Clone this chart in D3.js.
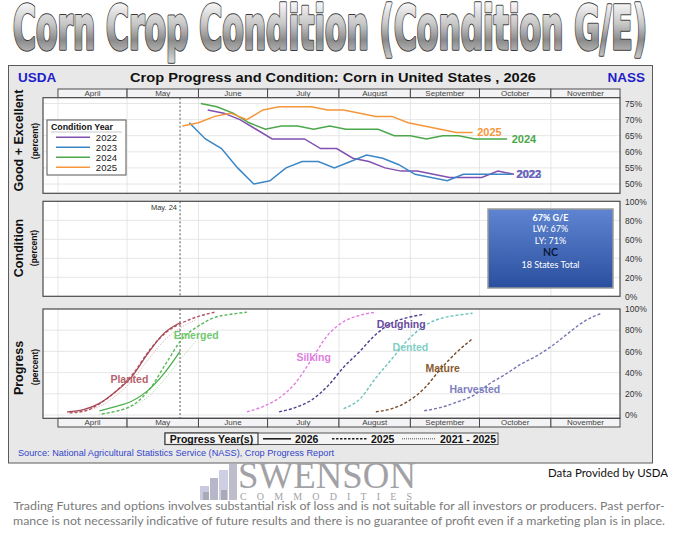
<!DOCTYPE html>
<html>
<head>
<meta charset="utf-8">
<script src="https://cdn.jsdelivr.net/npm/d3@7"></script>
<style>
  body { margin: 0; background: #fff; }
  svg { display: block; }
</style>
</head>
<body>
<svg id="chart" width="680" height="542"></svg>
<script>
//
// data
//

var monthNames = ["April", "May", "June", "July", "August", "September", "October", "November"];
var monthStarts = ["04-01", "05-01", "06-01", "07-01", "08-01", "09-01", "10-01", "11-01", "12-01"];

// condition: good + excellent, percent
var ge2022Dates = ["06-05","06-12","06-19","06-26","07-03","07-10","07-17","07-24","07-31","08-07","08-14","08-21","08-28","09-04","09-11","09-18","09-25","10-02","10-09","10-16"];
var ge2022 = [73,72,70,67,64,64,64,61,61,58,57,55,54,54,53,52,52,52,54,53];
var ge2023Dates = ["05-28","06-04","06-11","06-18","06-25","07-02","07-09","07-16","07-23","07-30","08-06","08-13","08-20","08-27","09-03","09-10","09-17","09-24","10-01","10-08","10-15"];
var ge2023 = [69,64,61,55,50,51,55,57,57,55,57,59,58,56,53,52,51,53,53,53,53];
var ge2024Dates = ["06-02","06-09","06-16","06-23","06-30","07-07","07-14","07-21","07-28","08-04","08-11","08-18","08-25","09-01","09-08","09-15","09-22","09-29","10-06","10-13"];
var ge2024 = [75,74,72,69,67,68,68,67,68,67,67,67,65,65,64,65,65,64,64,64];
var ge2025Dates = ["05-25","06-01","06-08","06-15","06-22","06-29","07-06","07-13","07-20","07-27","08-03","08-10","08-17","08-24","08-31","09-07","09-14","09-21","09-28"];
var ge2025 = [68,69,71,72,70,73,74,74,74,73,73,72,71,71,69,68,67,66,66];
var conditionYears = ["2022", "2023", "2024", "2025"];
var geTicks = [50, 55, 60, 65, 70, 75];
var pctTicks = [0, 20, 40, 60, 80, 100];

// progress, percent of crop
var plantedDates2026 = ["04-05","04-12","04-19","04-26","05-03","05-10","05-17","05-24"];
var planted2026 = [3,5,11,22,36,58,77,87];
var plantedDates2025 = ["04-06","04-13","04-20","04-27","05-04","05-11","05-18","05-25","06-01","06-08"];
var planted2025 = [2,4,12,24,40,62,78,87,93,97];
var plantedDatesAvg = ["04-05","04-12","04-19","04-26","05-03","05-10","05-17","05-24","05-31"];
var plantedAvg = [2,4,8,18,32,52,70,82,90];

var emergedDates2026 = ["04-19","04-26","05-03","05-10","05-17","05-24"];
var emerged2026 = [4,8,13,23,39,60];
var emergedDates2025 = ["04-20","04-27","05-04","05-11","05-18","05-25","06-01","06-08","06-15","06-22"];
var emerged2025 = [1,4,10,25,49,72,84,92,95,97];
var emergedDatesAvg = ["04-19","04-26","05-03","05-10","05-17","05-24","05-31"];
var emergedAvg = [1,3,8,17,33,52,70];

var silkingDates2025 = ["06-22","06-29","07-06","07-13","07-20","07-27","08-03","08-10","08-17"];
var silking2025 = [3,8,16,30,52,75,88,94,97];
var doughingDates2025 = ["07-06","07-13","07-20","07-27","08-03","08-10","08-17","08-24","08-31","09-07"];
var doughing2025 = [3,7,14,27,45,60,76,87,92,95];
var dentedDates2025 = ["08-03","08-10","08-17","08-24","08-31","09-07","09-14","09-21","09-28"];
var dented2025 = [6,15,35,53,71,84,91,94,96];
var matureDates2025 = ["08-17","08-24","08-31","09-07","09-14","09-21","09-28"];
var mature2025 = [3,6,13,25,43,59,72];
var harvestedDates2025 = ["09-07","09-14","09-21","09-28","10-05","10-12","10-19","10-26","11-02","11-09","11-16","11-23"];
var harvested2025 = [4,7,12,18,29,38,48,56,66,78,89,96];

var reportDate = "05-24";

//
// helpers
//

var parse = d3.utcParse("%Y-%m-%d");
function day(s) { return parse("2026-" + s); }
function zip(dates, vals) { return dates.map(function(s, i) { return [day(s), vals[i]]; }); }

var FONT = "'Liberation Sans', Arial, sans-serif";
var svg = d3.select("#chart");

var x = d3.scaleUtc()
  .domain([Date.UTC(2026, 2, 25, 12), Date.UTC(2026, 11, 1)])
  .range([43, 620]);

var yGE = d3.scaleLinear().domain([50, 75]).range([184, 103.5]);
var yCond = d3.scaleLinear().domain([0, 100]).range([296.3, 201.3]);
var yProg = d3.scaleLinear().domain([0, 100]).range([415, 309]);

var defs = svg.append("defs");
var tg = defs.append("linearGradient").attr("id", "titleGrad")
  .attr("gradientUnits", "userSpaceOnUse")
  .attr("x1", 0).attr("y1", 4).attr("x2", 0).attr("y2", 62);
tg.append("stop").attr("offset", "0%").attr("stop-color", "#f4f4f4");
tg.append("stop").attr("offset", "35%").attr("stop-color", "#c6c6c6");
tg.append("stop").attr("offset", "62%").attr("stop-color", "#8a8a8a");
tg.append("stop").attr("offset", "100%").attr("stop-color", "#d8d8d8");

var bg = defs.append("linearGradient").attr("id", "boxGrad")
  .attr("x1", 0).attr("y1", 0).attr("x2", 0).attr("y2", 1);
bg.append("stop").attr("offset", "0%").attr("stop-color", "#5f85d2");
bg.append("stop").attr("offset", "100%").attr("stop-color", "#2a4f9e");

//
// big title (drawn twice: dark outline, then the grey fill, to get heavy letters)
//

var titleText = "Corn Crop Condition (Condition G/E)";
[{ stroke: "#3a3a3a", w: 3.4 }, { stroke: "url(#titleGrad)", w: 1.4 }].forEach(function(l) {
  svg.append("text")
    .attr("x", 13).attr("y", 49)
    .attr("textLength", 634).attr("lengthAdjust", "spacingAndGlyphs")
    .style("font-family", "'Liberation Sans Narrow', 'DejaVu Sans Condensed', sans-serif")
    .style("font-weight", "bold").style("font-size", "60px")
    .attr("fill", "url(#titleGrad)").attr("stroke", l.stroke).attr("stroke-width", l.w)
    .attr("stroke-linejoin", "round")
    .text(titleText);
});

//
// chart frame
//

svg.append("rect")
  .attr("x", 8.5).attr("y", 65.5).attr("width", 644).attr("height", 397.5)
  .attr("fill", "#e8e8e8").attr("stroke", "#5a5a5a");

svg.append("text").attr("x", 18).attr("y", 82)
  .style("font", "bold 13.5px " + FONT).attr("fill", "#1f1fc8").text("USDA");
svg.append("text").attr("x", 645).attr("y", 82).attr("text-anchor", "end")
  .style("font", "bold 13.5px " + FONT).attr("fill", "#1f1fc8").text("NASS");
svg.append("text").attr("x", 130).attr("y", 82)
  .attr("textLength", 406).attr("lengthAdjust", "spacingAndGlyphs")
  .style("font", "bold 13px " + FONT).attr("fill", "#111")
  .text("Crop Progress and Condition: Corn in United States , 2026");

function monthHeader(top, h) {
  var g = svg.append("g");
  g.selectAll("rect").data(monthNames).join("rect")
    .attr("x", function(m, i) { return Math.max(x(day(monthStarts[i])), 43); })
    .attr("y", top)
    .attr("width", function(m, i) { return x(day(monthStarts[i + 1])) - Math.max(x(day(monthStarts[i])), 43); })
    .attr("height", h)
    .attr("fill", "#f3f3f5").attr("stroke", "#4a4a4a").attr("stroke-width", 1);
  g.selectAll("text").data(monthNames).join("text")
    .attr("x", function(m, i) {
      return (Math.max(x(day(monthStarts[i])), 43) + x(day(monthStarts[i + 1]))) / 2;
    })
    .attr("y", top + h - 1.8)
    .attr("text-anchor", "middle")
    .style("font", "8px " + FONT).attr("fill", "#444")
    .text(function(m) { return m; });
}

function panel(top, bottom, yScale, gridVals, tickVals) {
  var g = svg.append("g");
  g.append("rect").attr("x", 43).attr("y", top).attr("width", 577).attr("height", bottom - top)
    .attr("fill", "#fff");
  g.selectAll(".vg").data(monthStarts.slice(0, 8)).join("line")
    .attr("x1", function(s) { return x(day(s)); }).attr("x2", function(s) { return x(day(s)); })
    .attr("y1", top).attr("y2", bottom)
    .attr("stroke", "#e0e0e0").attr("stroke-width", 0.8);
  g.selectAll(".hg").data(gridVals).join("line")
    .attr("x1", 43).attr("x2", 620)
    .attr("y1", function(v) { return yScale(v); }).attr("y2", function(v) { return yScale(v); })
    .attr("stroke", "#e0e0e0").attr("stroke-width", 0.8);
  g.append("line")
    .attr("x1", x(day(reportDate))).attr("x2", x(day(reportDate)))
    .attr("y1", top).attr("y2", bottom)
    .attr("stroke", "#555").attr("stroke-width", 1).attr("stroke-dasharray", "2,2");
  var ax = svg.append("g").attr("transform", "translate(621,0)")
    .call(d3.axisRight(yScale).tickValues(tickVals).tickSize(0).tickPadding(4)
      .tickFormat(function(v) { return v + "%"; }));
  ax.select(".domain").remove();
  ax.selectAll("text").style("font", "8.5px " + FONT).attr("fill", "#333");
  return g;
}

function frame(top, bottom) {
  svg.append("rect").attr("x", 43).attr("y", top).attr("width", 577).attr("height", bottom - top)
    .attr("fill", "none").attr("stroke", "#4a4a4a").attr("stroke-width", 1.2);
}

function yTitle(cx, cy, main, size) {
  svg.append("text")
    .attr("transform", "translate(" + cx + "," + cy + ") rotate(-90)")
    .attr("text-anchor", "middle")
    .style("font", "bold " + size + "px " + FONT).attr("fill", "#111")
    .text(main);
}

//
// panel 1: good + excellent
//

monthHeader(89, 8.7);
panel(97.7, 193.3, yGE, geTicks, geTicks);

var geLine = d3.line()
  .x(function(p) { return x(p[0]); })
  .y(function(p) { return yGE(p[1]); });

var geSeries = [
  { year: "2022", pts: zip(ge2022Dates, ge2022), color: "#8150b0" },
  { year: "2023", pts: zip(ge2023Dates, ge2023), color: "#3d86c6" },
  { year: "2024", pts: zip(ge2024Dates, ge2024), color: "#4aa84a" },
  { year: "2025", pts: zip(ge2025Dates, ge2025), color: "#f5963a" }
];

svg.append("g").selectAll("path").data(geSeries).join("path")
  .attr("d", function(s) { return geLine(s.pts); })
  .attr("fill", "none")
  .attr("stroke", function(s) { return s.color; })
  .attr("stroke-width", 1.5);

frame(97.7, 193.3);

// end labels
function endLabel(date, v, txt, color, dx, dy) {
  svg.append("text")
    .attr("x", x(day(date)) + (dx || 0)).attr("y", yGE(v) + 4 + (dy || 0))
    .style("font", "bold 11px " + FONT).attr("fill", color)
    .text(txt);
}
endLabel("09-30", 66.2, "2025", "#f5963a");
endLabel("10-15", 64.1, "2024", "#4aa84a");
endLabel("10-17", 53.1, "2023", "#3d86c6", 0.6, 0.4);
endLabel("10-17", 53.1, "2022", "#7a5bb8");

// condition year legend
var leg = svg.append("g").attr("transform", "translate(47,120)");
leg.append("rect").attr("width", 79).attr("height", 55)
  .attr("fill", "#fff").attr("stroke", "#555").attr("stroke-width", 1);
leg.append("text").attr("x", 4).attr("y", 10)
  .style("font", "bold 8.8px " + FONT).attr("fill", "#111").text("Condition Year");
leg.append("line").attr("x1", 4).attr("x2", 75).attr("y1", 12).attr("y2", 12)
  .attr("stroke", "#bbb").attr("stroke-width", 0.8);
var items = leg.selectAll(".it").data(geSeries).join("g")
  .attr("transform", function(s, i) { return "translate(0," + (17.3 + i * 10) + ")"; });
items.append("line").attr("x1", 9).attr("x2", 43).attr("y1", 0).attr("y2", 0)
  .attr("stroke", function(s) { return s.color; }).attr("stroke-width", 1.5);
items.append("text").attr("x", 70).attr("y", 3.5).attr("text-anchor", "end")
  .style("font", "9.5px " + FONT).attr("fill", "#222")
  .text(function(s) { return s.year; });

yTitle(23, 140.5, "Good + Excellent", 12.5);
yTitle(38, 141, "(percent)", 8.5);

//
// panel 2: condition
//

panel(201.3, 296.3, yCond, [20, 40, 60, 80], pctTicks);
frame(201.3, 296.3);

svg.append("text")
  .attr("x", x(day(reportDate)) - 3).attr("y", 209.5)
  .attr("text-anchor", "end")
  .style("font", "7.5px " + FONT).attr("fill", "#333")
  .text("May. 24");

var box = svg.append("g").attr("transform", "translate(488,209)");
box.append("rect").attr("width", 125).attr("height", 79)
  .attr("fill", "url(#boxGrad)").attr("stroke", "#9a9a9a").attr("stroke-width", 1.5);
var boxLines = [
  { t: "67% G/E", w: "bold", c: "#fff" },
  { t: "LW: 67%", w: "normal", c: "#fff" },
  { t: "LY: 71%", w: "normal", c: "#fff" },
  { t: "NC", w: "bold", c: "#0d1a3a" },
  { t: "18 States Total", w: "normal", c: "#fff" }
];
box.selectAll("text").data(boxLines).join("text")
  .attr("x", 62.5).attr("y", function(l, i) { return 11.5 + i * 11.8; })
  .attr("text-anchor", "middle")
  .style("font-family", "Lato, 'Open Sans', sans-serif")
  .style("font-size", function(l) { return l.t === "NC" ? "10.5px" : "9px"; })
  .style("font-weight", function(l) { return l.w; })
  .attr("fill", function(l) { return l.c; })
  .text(function(l) { return l.t; });

yTitle(23, 248, "Condition", 12.5);
yTitle(37, 248, "(percent)", 8.5);

//
// panel 3: progress
//

panel(309, 418.3, yProg, [0, 20, 40, 60, 80], pctTicks);
monthHeader(418.3, 8.7);

var progLine = d3.line()
  .curve(d3.curveMonotoneX)
  .x(function(p) { return x(p[0]); })
  .y(function(p) { return yProg(p[1]); });

var progSeries = [
  { pts: zip(plantedDatesAvg, plantedAvg), color: "#d9a3ab", dash: "1,1.5", w: 1 },
  { pts: zip(emergedDatesAvg, emergedAvg), color: "#a6d8a0", dash: "1,1.5", w: 1 },
  { pts: zip(plantedDates2025, planted2025), color: "#b35463", dash: "3,2", w: 1.4 },
  { pts: zip(emergedDates2025, emerged2025), color: "#5cb85c", dash: "3,2", w: 1.4 },
  { pts: zip(plantedDates2026, planted2026), color: "#a84a58", dash: null, w: 1.3 },
  { pts: zip(emergedDates2026, emerged2026), color: "#4cb04c", dash: null, w: 1.3 },
  { pts: zip(silkingDates2025, silking2025), color: "#e27fe2", dash: "3,2", w: 1.4 },
  { pts: zip(doughingDates2025, doughing2025), color: "#4b3d8f", dash: "3,2", w: 1.4 },
  { pts: zip(dentedDates2025, dented2025), color: "#6cc5bd", dash: "3,2", w: 1.4 },
  { pts: zip(matureDates2025, mature2025), color: "#7a4a26", dash: "3,2", w: 1.4 },
  { pts: zip(harvestedDates2025, harvested2025), color: "#7474b4", dash: "3,2", w: 1.4 }
];

svg.append("g").selectAll("path").data(progSeries).join("path")
  .attr("d", function(s) { return progLine(s.pts); })
  .attr("fill", "none")
  .attr("stroke", function(s) { return s.color; })
  .attr("stroke-width", function(s) { return s.w; })
  .attr("stroke-dasharray", function(s) { return s.dash; });

var stageLabels = [
  { t: "Planted", d: "05-02", v: 34, c: "#b5636c" },
  { t: "Emerged", d: "05-31", v: 75.5, c: "#72c872" },
  { t: "Silking", d: "07-21", v: 55, c: "#e07fe0" },
  { t: "Doughing", d: "08-28", v: 85.6, c: "#6a4a9e" },
  { t: "Dented", d: "09-01", v: 64.4, c: "#7fcfc6" },
  { t: "Mature", d: "09-15", v: 44.6, c: "#8a5a2e" },
  { t: "Harvested", d: "09-29", v: 24.2, c: "#7e7ec0" }
];
svg.append("g").selectAll("text").data(stageLabels).join("text")
  .attr("x", function(l) { return x(day(l.d)); })
  .attr("y", function(l) { return yProg(l.v) + 3.8; })
  .attr("text-anchor", "middle")
  .style("font", "bold 10.5px " + FONT)
  .attr("fill", function(l) { return l.c; })
  .text(function(l) { return l.t; });

frame(309, 418.3);

yTitle(23, 368, "Progress", 12.5);
yTitle(38, 367, "(percent)", 8.5);

// progress year legend
var pl = svg.append("g").attr("transform", "translate(165,433)");
pl.append("rect").attr("width", 333).attr("height", 11.5)
  .attr("fill", "#f5f5f5").attr("stroke", "#555");
pl.append("rect").attr("width", 93).attr("height", 11.5)
  .attr("fill", "#f5f5f5").attr("stroke", "#444").attr("stroke-width", 1.2);
pl.append("text").attr("x", 46.5).attr("y", 9.5).attr("text-anchor", "middle")
  .style("font", "bold 10.5px " + FONT).attr("fill", "#111").text("Progress Year(s)");
var legItems = [
  { lab: "2026", x0: 98, x1: 126, dash: null, w: 1.6 },
  { lab: "2025", x0: 167, x1: 202, dash: "2.5,1.5", w: 1.6 },
  { lab: "2021 - 2025", x0: 237, x1: 271, dash: "1,1", w: 0.8 }
];
var li = pl.selectAll(".li").data(legItems).join("g");
li.append("line")
  .attr("x1", function(d) { return d.x0; }).attr("x2", function(d) { return d.x1; })
  .attr("y1", 5.8).attr("y2", 5.8)
  .attr("stroke", "#222").attr("stroke-width", function(d) { return d.w; })
  .attr("stroke-dasharray", function(d) { return d.dash; });
li.append("text").attr("x", function(d) { return d.x1 + 4; }).attr("y", 9.5)
  .style("font", "bold 10.5px " + FONT).attr("fill", "#111")
  .text(function(d) { return d.lab; });

svg.append("text").attr("x", 18).attr("y", 456)
  .attr("textLength", 316).attr("lengthAdjust", "spacingAndGlyphs")
  .style("font", "9px " + FONT).attr("fill", "#3344c8")
  .text("Source: National Agricultural Statistics Service (NASS), Crop Progress Report");

//
// footer: logo, credit, disclaimer
//

var logo = svg.append("g").attr("transform", "translate(200,464)");
[[0, 22, 9, 14, "#c9c9df"], [10, 14, 8, 22, "#b7b7c9"], [19, 6, 9, 30, "#cfcfe3"], [29, 0, 8, 36, "#bdbdcc"],
 [3, 28, 6, 8, "#a9a9b8"], [21, 26, 6, 10, "#a9a9b8"]].forEach(function(r) {
  logo.append("rect").attr("x", r[0]).attr("y", r[1]).attr("width", r[2]).attr("height", r[3]).attr("fill", r[4]);
});
// serif word mark, scaled so its box stays below the chart frame
svg.append("text")
  .attr("transform", "translate(238,488) scale(1,1.3)")
  .attr("textLength", 178).attr("lengthAdjust", "spacingAndGlyphs")
  .style("font-family", "'Liberation Serif', 'DejaVu Serif', serif").style("font-size", "29px")
  .attr("fill", "#a2a2a6").text("SWENSON");
svg.append("text").attr("x", 240).attr("y", 500)
  .attr("textLength", 172).attr("lengthAdjust", "spacing")
  .style("font-family", "'Liberation Serif', 'DejaVu Serif', serif").style("font-size", "10px")
  .attr("fill", "#a2a2a6").text("COMMODITIES");

svg.append("text").attr("x", 668).attr("y", 477).attr("text-anchor", "end")
  .attr("textLength", 120).attr("lengthAdjust", "spacingAndGlyphs")
  .style("font", "11.5px Lato, 'Open Sans', sans-serif").attr("fill", "#111")
  .text("Data Provided by USDA");

var disclaimer = [
  "Trading Futures and options involves substantial risk of loss and is not suitable for all investors or producers. Past perfor-",
  "mance is not necessarily indicative of future results and there is no guarantee of profit even if a marketing plan is in place."
];
svg.append("g").selectAll("text").data(disclaimer).join("text")
  .attr("x", 339).attr("y", function(t, i) { return 510 + i * 14.5; })
  .attr("text-anchor", "middle")
  .attr("textLength", function(t, i) { return i ? 652 : 651; })
  .attr("lengthAdjust", "spacingAndGlyphs")
  .style("font", "11px Lato, 'Open Sans', sans-serif").attr("fill", "#7a7a7a")
  .text(function(t) { return t; });
</script>
</body>
</html>
